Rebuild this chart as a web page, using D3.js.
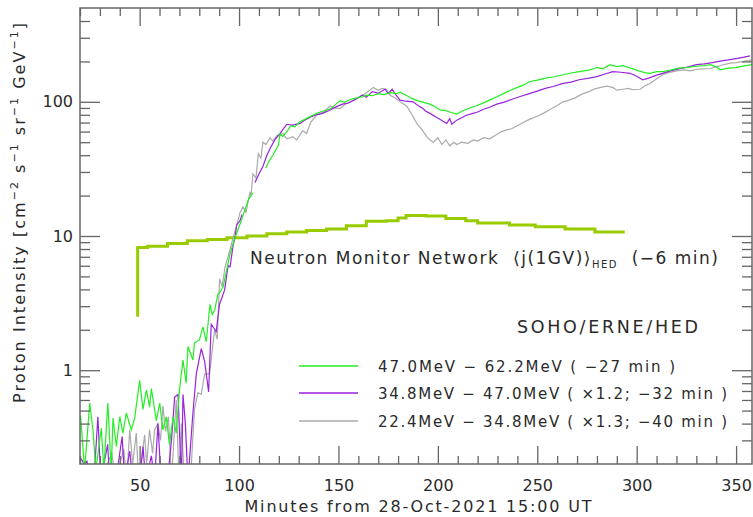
<!DOCTYPE html>
<html>
<head>
<meta charset="utf-8">
<script src="https://cdn.jsdelivr.net/npm/d3@7"></script>
<style>
  html, body { margin: 0; padding: 0; background: #fff; }
  svg text { font-family: "DejaVu Sans", sans-serif; fill: #2a2a2a; white-space: pre; }
</style>
</head>
<body>
<svg id="chart" width="753" height="517"></svg>
<script>
// ---------------- DATA ----------------
const xMajorTicks = [50, 100, 150, 200, 250, 300, 350];
const xMinorTicks = [20, 30, 40, 60, 70, 80, 90, 110, 120, 130, 140, 160, 170, 180, 190, 210, 220, 230, 240, 260, 270, 280, 290, 310, 320, 330, 340];
const yMajorTicks = [1, 10, 100];
const yMajorLabels = ["1", "10", "100"];
const yMinorTicks = [0.3, 0.4, 0.5, 0.6, 0.7, 0.8, 0.9, 2, 3, 4, 5, 6, 7, 8, 9, 20, 30, 40, 50, 60, 70, 80, 90, 200, 300, 400];

// Neutron monitor network <j(1GV)>_HED (step curve)
const nmTime = [49, 49, 54, 64, 74, 84, 94, 104, 114, 124, 134, 144, 154, 164, 174, 180, 184, 194, 204, 214, 220, 236, 249, 264, 279, 294];
const nmFlux = [2.5, 8.2, 8.4, 8.8, 9.2, 9.4, 9.7, 10.0, 10.4, 10.7, 11.0, 11.3, 11.9, 12.9, 13.0, 13.6, 14.2, 14.1, 13.5, 13.0, 12.5, 12.1, 11.7, 11.3, 10.7, 10.7];

// 47.0-62.2 MeV (-27 min)
const greenTime = [20.3, 22.3, 24.9, 26.5, 28, 30.7, 32, 34, 35.7, 36.6, 38.3, 40, 41.6, 43.3, 45.8, 47.5, 50, 51.7, 53.4, 55, 55.9, 58.4, 60.1, 61.7, 63.4, 65, 66.8, 68.4, 70.1, 71.8, 73.4, 74.3, 76.8, 77.6, 80.1, 81.8, 83.5, 85.4, 86.5, 87.7, 89.4, 90.4, 92, 93.8, 95.5, 98, 100.5, 102.5, 104.7, 107, 110, 113.4, 115, 117, 119.8, 120.6, 122, 124, 126, 128, 130.7, 133, 136, 139, 142, 145.8, 148, 150.8, 153, 156, 160, 162.5, 164, 167, 170, 173, 176, 179.3, 181, 184, 187, 189.4, 192, 196, 198, 201, 204, 206, 209.5, 212, 216, 219, 222, 226, 229.6, 233, 236, 240, 243, 246, 250, 254, 258, 263, 267, 271, 276.5, 280, 283, 286.6, 290, 293, 297, 301, 304, 306.7, 310, 313, 317, 321, 325, 330, 334, 337, 340, 342, 346, 350, 354, 358];
const greenFlux = [0.46, 0.18, 0.57, 0.36, 0.18, 0.37, 0.18, 0.57, 0.18, 0.44, 0.27, 0.45, 0.34, 0.48, 0.36, 0.44, 0.84, 0.51, 0.71, 0.53, 0.73, 0.42, 0.57, 0.36, 0.45, 0.28, 0.45, 0.34, 0.73, 1.19, 0.80, 1.5, 1.19, 1.6, 1.68, 2.1, 1.63, 3.1, 2.6, 2.8, 3.7, 3.8, 4.2, 5.6, 7.4, 9.8, 12.3, 15, 18.6, 21, null, 32, 36, 40, 47.6, 57.7, 55, 60, 66, 65, 71, 74, 78, 82, 85, 88, 94, 102, 99, 104, 108, 109, 112, 111, 115, 113, 117, 115, 118, 112, 106, 102, 100, 96, 93, 87, 86, 84, 81, 85, 90, 93, 97, 103, 109, 115, 121, 128, 133, 141, 145, 150, 153, 159, 164, 168, 173, 180, 176, 189, 183, 186, 178, 170, 165, 163, 168, 168, 172, 178, 180, 184, 186, 189, 182, 173, 178, 180, 185, 189];

// 34.8-47.0 MeV (x1.2; -32 min)
const purpleTime = [20.5, 22, 23.5, 25, 27, 29, 30.5, 33.9, 35, 38, 41.2, 42.5, 45, 46.5, 50, 51.7, 53, 55.9, 57.5, 59.2, 60.8, 64, 66, 67.6, 69.3, 71, 71.8, 73, 74.3, 76.8, 78.5, 81, 82.7, 84.7, 86, 88.5, 90.2, 92.7, 94.5, 95.5, 97, 98, 98.8, 100.5, 101.5, 105, 108, 110.5, 112, 114, 116, 118, 120.6, 122, 124, 127, 130.7, 133, 136, 139, 142, 145.8, 149, 152, 155, 158, 162, 164, 167, 170, 173.4, 175, 177, 179, 181, 184, 187.5, 190, 192.5, 194, 196, 199, 201, 204.4, 206, 207, 209.5, 212, 214, 217.7, 220, 223, 226, 229.6, 233, 237, 241, 246, 250, 254, 258, 263, 267, 271, 276, 280, 284, 288, 292, 296.7, 300, 303, 306, 310, 313, 317, 321, 325, 330, 334, 338, 342, 346, 350, 354, 357];
const purpleFlux = [0.22, 0.2, 0.21, 0.15, 0.15, 0.45, 0.15, 0.28, 0.15, 0.15, 0.32, 0.15, 0.25, 0.15, 0.15, 0.27, 0.15, 0.23, 0.15, 0.40, 0.15, 0.15, 0.3, 0.63, 0.66, 0.15, 0.66, 0.4, 0.15, 0.48, 0.94, 1.45, 1.16, 0.69, 2.2, 1.94, 3.1, 3.95, 6, 5.9, 8.5, 9.8, 12.1, 13, 14.5, null, 25, 30, 33, 40, 46, 52, 58, 62, 68, 67, 69, 73, 77, 80, 82, 87, 92, 96, 98, 103, 112, 108, 119, 116, 124, 115, 124, 112, 103, 101, 100, 94, 89, 85, 82, 77, 74, 69, 75, 68, 73, 76, 79, 82, 84, 88, 91, 96, 99, 104, 109, 115, 120, 126, 130, 137, 140, 146, 150, 154, 161, 168, 166, 163, 155, 146, 150, 158, 163, 170, 176, 181, 189, 192, 196, 201, 205, 210, 215, 220];

// 22.4-34.8 MeV (x1.3; -40 min)
const grayTime = [20.5, 30, 36, 38, 42, 43.5, 45, 46.5, 48.3, 49.5, 52.5, 53.5, 55, 56.5, 57.5, 59.2, 60.5, 61.7, 63, 64.5, 66, 68.4, 69.8, 71, 72.5, 75.5, 77.6, 79.3, 81, 82.7, 85.2, 87.7, 89, 90.2, 91.5, 93, 95, 97.1, 98.8, 100.5, 102, 103.5, 105.5, 106, 107, 108.5, 109.7, 111, 112, 113.5, 115.6, 117, 119, 122, 124, 127, 129, 132, 134, 136, 139, 142, 145.8, 148, 150.8, 153, 156, 158, 160.8, 163, 165, 167.5, 170, 172, 174, 176, 179.3, 181, 184.3, 187, 189.4, 192, 194.4, 196, 197.7, 200, 202, 204, 206, 208, 209.5, 212, 215, 217.8, 220, 223, 226, 229.6, 232, 235, 237, 239.7, 243, 246, 250, 253, 256, 259, 263, 266, 269, 273, 276, 279, 282, 285, 288, 290, 293, 296, 298, 301.7, 304, 306.7, 309, 313, 316, 320, 323.5, 327, 330, 333, 337, 340, 343, 347, 350, 354, 358];
const grayFlux = [0.15, 0.15, 0.24, 0.15, 0.26, 0.15, 0.36, 0.2, 0.34, 0.15, 0.33, 0.2, 0.36, 0.24, 0.36, 0.40, 0.3, 0.54, 0.35, 0.45, 0.15, 0.6, 0.15, 0.40, 0.15, 0.15, 0.51, 0.68, 0.66, 0.94, 0.94, 2.0, 1.7, 4.8, 4.2, 5.9, 7.5, 9.8, 12, 15, 16.5, 15, 21.3, 20, 29, 27, 41, 38, 50, 48, 54, 51, 56, 58, 53, 55, 52, 61, 58, 70, 80, 83, 93, 90, 89, 95, 100, 104, 109, 114, 120, 128, 122, 126, 124, 112, 105, 100, 93, 80, 69, 62, 55, 52, 50, 54, 48, 52, 47, 50, 48, 50, 49, 52, 51, 54, 53, 57, 60, 62, 63, 66, 70, 74, 78, 82, 87, 92, 100, 103, 107, 115, 119, 125, 128, 131, 128, 122, 124, 126, 123, 124, 131, 137, 145, 159, 165, 170, 173, 170, 174, 176, 177, 182, 188, 194, 196, 200, 205];

const legendLabels = ["47.0MeV \u2212 62.2MeV ( \u221227 min )", "34.8MeV \u2212 47.0MeV ( \u00d71.2; \u221232 min )", "22.4MeV \u2212 34.8MeV ( \u00d71.3; \u221240 min )"];
const seriesColors = ["#22ee22", "#9a22dd", "#aaaaaa"];
const nmColor = "#99cc00";

// ---------------- CHART ----------------
const svg = d3.select("#chart");
const L = 80, R = 752, T = 8, B = 464;
const x = d3.scaleLinear().domain([20, 358]).range([L, R]);
const y = d3.scaleLog().domain([0.2, 500]).range([B, T]);
const axisColor = "#666";

svg.append("defs").append("clipPath").attr("id", "plotclip")
  .append("rect").attr("x", L).attr("y", T).attr("width", R - L).attr("height", B - T);

const plot = svg.append("g").attr("clip-path", "url(#plotclip)");

function zip(t, v) { return t.map((d, i) => ({ t: d, v: v[i] })); }

// NM step line
const nmLine = d3.line().curve(d3.curveStepAfter).x(d => x(d.t)).y(d => y(d.v));
plot.append("path").datum(zip(nmTime, nmFlux))
  .attr("d", nmLine).attr("fill", "none").attr("stroke", nmColor).attr("stroke-width", 3);

const line = d3.line().defined(d => d.v !== null).x(d => x(d.t)).y(d => y(Math.max(d.v, 0.1)));
const series = [[grayTime, grayFlux], [purpleTime, purpleFlux], [greenTime, greenFlux]];
const colorsDraw = [seriesColors[2], seriesColors[1], seriesColors[0]];
series.forEach((s, i) => {
  plot.append("path").datum(zip(s[0], s[1]))
    .attr("d", line).attr("fill", "none").attr("stroke", colorsDraw[i]).attr("stroke-width", 1.2);
});

// Axes
function styleAxis(g) {
  g.select(".domain").remove();
  g.selectAll(".tick line").attr("stroke", axisColor).attr("stroke-width", 1.3);
  g.selectAll(".tick text").attr("fill", "#2a2a2a").style("font-size", "16px").style("font-family", "DejaVu Sans");
}
// bottom
svg.append("g").attr("transform", `translate(0,${B})`)
  .call(d3.axisBottom(x).tickValues(xMajorTicks).tickSize(-18).tickPadding(16).tickFormat(d3.format("d")))
  .call(styleAxis);
svg.append("g").attr("transform", `translate(0,${B})`)
  .call(d3.axisBottom(x).tickValues(xMinorTicks).tickSize(-8).tickFormat(""))
  .call(styleAxis);
// top
svg.append("g").attr("transform", `translate(0,${T})`)
  .call(d3.axisTop(x).tickValues(xMajorTicks).tickSize(-18).tickFormat(""))
  .call(styleAxis);
svg.append("g").attr("transform", `translate(0,${T})`)
  .call(d3.axisTop(x).tickValues(xMinorTicks).tickSize(-8).tickFormat(""))
  .call(styleAxis);
// left
svg.append("g").attr("transform", `translate(${L},0)`)
  .call(d3.axisLeft(y).tickValues(yMajorTicks).tickSize(-20).tickPadding(7).tickFormat((d, i) => yMajorLabels[i]))
  .call(styleAxis);
svg.append("g").attr("transform", `translate(${L},0)`)
  .call(d3.axisLeft(y).tickValues(yMinorTicks).tickSize(-10).tickFormat(""))
  .call(styleAxis);
// right
svg.append("g").attr("transform", `translate(${R},0)`)
  .call(d3.axisRight(y).tickValues(yMajorTicks).tickSize(-20).tickFormat(""))
  .call(styleAxis);
svg.append("g").attr("transform", `translate(${R},0)`)
  .call(d3.axisRight(y).tickValues(yMinorTicks).tickSize(-10).tickFormat(""))
  .call(styleAxis);

// frame
svg.append("rect").attr("x", L).attr("y", T).attr("width", R - L).attr("height", B - T)
  .attr("fill", "none").attr("stroke", axisColor).attr("stroke-width", 1.5);

// X title
svg.append("text").attr("x", 418).attr("y", 512).attr("text-anchor", "middle")
  .style("font-size", "16px").attr("textLength", 347).attr("lengthAdjust", "spacing")
  .text("Minutes from 28-Oct-2021 15:00 UT");

// Y title
const yt = svg.append("text").attr("transform", "translate(25,213) rotate(-90)")
  .attr("text-anchor", "middle").style("font-size", "16px")
  .attr("textLength", 380).attr("lengthAdjust", "spacing");
const parts = [["Proton Intensity [cm", false], ["\u22122", true], [" s", false], ["\u22121", true], [" sr", false], ["\u22121", true], [" GeV", false], ["\u22121", true], ["]", false]];
let raised = false;
parts.forEach(p => {
  const ts = yt.append("tspan").text(p[0]);
  if (p[1] && !raised) { ts.attr("dy", -7); raised = true; }
  else if (!p[1] && raised) { ts.attr("dy", 7); raised = false; }
  if (p[1]) ts.style("font-size", "11px");
});

// NM label
const nmt = svg.append("text").attr("x", 250).attr("y", 264).style("font-size", "17px")
  .attr("textLength", 468).attr("lengthAdjust", "spacing");
nmt.append("tspan").text("Neutron Monitor Network  \u27e8j(1GV)\u27e9");
nmt.append("tspan").attr("dy", 4).style("font-size", "10px").text("HED");
nmt.append("tspan").attr("dy", -4).text("  (\u22126 min)");

// SOHO label
svg.append("text").attr("x", 517).attr("y", 333).style("font-size", "17.5px")
  .attr("textLength", 181).attr("lengthAdjust", "spacing").text("SOHO/ERNE/HED");

// legend
const legY = [366, 393, 421];
const legW = [297, 349, 349];
legendLabels.forEach((lab, i) => {
  svg.append("line").attr("x1", 299).attr("x2", 358).attr("y1", legY[i]).attr("y2", legY[i])
    .attr("stroke", seriesColors[i]).attr("stroke-width", 1.3);
  svg.append("text").attr("x", 378).attr("y", legY[i] + 6).style("font-size", "15px")
    .attr("textLength", legW[i]).attr("lengthAdjust", "spacing").text(lab);
});
</script>
</body>
</html>
